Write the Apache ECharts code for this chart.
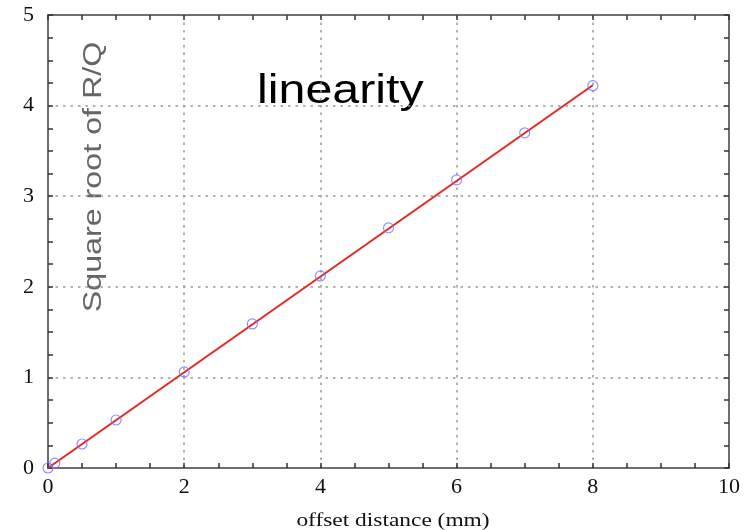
<!DOCTYPE html>
<html>
<head>
<meta charset="utf-8">
<script src="https://cdn.jsdelivr.net/npm/echarts@6/dist/echarts.min.js"></script>
<style>
  html, body { margin: 0; padding: 0; background: #fff; }
  #chart { width: 752px; height: 530px; }
</style>
</head>
<body>
<div id="chart"></div>
<script>
// Offset distance (mm) and measured square root of R/Q
const offsets = [0, 0.1, 0.5, 1, 2, 3, 4, 5, 6, 7, 8];
const sqrtRQ = [0, 0.053, 0.265, 0.53, 1.06, 1.59, 2.12, 2.65, 3.18, 3.70, 4.22];

// Linear fit drawn across the measured range
const fitX = [0, 8];
const fitY = [0, 4.225];

const xTicks = [0, 2, 4, 6, 8, 10];
const yTicks = [0, 1, 2, 3, 4, 5];

const serif = '"Liberation Serif", "DejaVu Serif", serif';
const sans = '"Liberation Sans", Arial, sans-serif';
const axisColor = '#6e6e6e';

const chart = echarts.init(document.getElementById('chart'), null, { renderer: 'canvas' });

function frameAxis(pos, showLabels, isX) {
  return {
    type: 'value',
    position: pos,
    min: isX ? xTicks[0] : yTicks[0],
    max: isX ? xTicks[xTicks.length - 1] : yTicks[yTicks.length - 1],
    interval: isX ? 2 : 1,
    axisLine: { show: true, onZero: false, lineStyle: { color: axisColor, width: 2 } },
    axisTick: { show: true, inside: true, length: 5, lineStyle: { color: '#333', width: 1.5 } },
    minorTick: { show: true, splitNumber: 4, length: 5, lineStyle: { color: '#333', width: 1.5 } },
    splitLine: showLabels ? { show: true, lineStyle: { color: '#999', width: 1.5, type: [2.5, 5] } } : { show: false },
    axisLabel: showLabels ? {
      show: true, color: '#111', fontFamily: serif, fontSize: 22,
      margin: isX ? 8 : 14
    } : { show: false }
  };
}

const xMain = frameAxis('bottom', true, true);
const xTop = frameAxis('top', false, true);
const yMain = frameAxis('left', true, false);
const yRight = frameAxis('right', false, false);
// minor ticks point into the frame
[xMain, xTop, yMain, yRight].forEach(a => { a.minorTick.inside = true; });

chart.setOption({
  animation: false,
  backgroundColor: '#fff',
  grid: { left: 48, right: 23, top: 15, bottom: 62, containLabel: false },
  xAxis: [xMain, xTop],
  yAxis: [yMain, yRight],
  graphic: [
    {
      type: 'text',
      x: 257, y: 71,
      scaleX: 1.18,
      style: {
        text: 'linearity',
        font: '41px ' + sans,
        fill: '#000',
        textAlign: 'left',
        textVerticalAlign: 'top'
      }
    },
    {
      type: 'text',
      x: 81, y: 177,
      rotation: Math.PI / 2,
      scaleX: 1.24,
      style: {
        text: 'Square root of R/Q',
        font: '26px ' + sans,
        fill: '#666',
        textAlign: 'center',
        textVerticalAlign: 'top'
      }
    },
    {
      type: 'text',
      x: 393, y: 512,
      scaleX: 1.3,
      style: {
        text: 'offset distance (mm)',
        font: '18px ' + serif,
        fill: '#111',
        textAlign: 'center',
        textVerticalAlign: 'top'
      }
    }
  ],
  series: [
    {
      type: 'line',
      xAxisIndex: 0, yAxisIndex: 0,
      data: fitX.map((x, i) => [x, fitY[i]]),
      symbol: 'none',
      lineStyle: { color: '#e8251f', width: 2 },
      z: 3
    },
    {
      type: 'scatter',
      xAxisIndex: 0, yAxisIndex: 0,
      data: offsets.map((x, i) => [x, sqrtRQ[i]]),
      symbol: 'circle',
      symbolSize: 10,
      itemStyle: { color: 'rgba(0,0,0,0)', borderColor: '#7474ff', borderWidth: 1.2 },
      z: 4
    }
  ]
});
</script>
</body>
</html>
